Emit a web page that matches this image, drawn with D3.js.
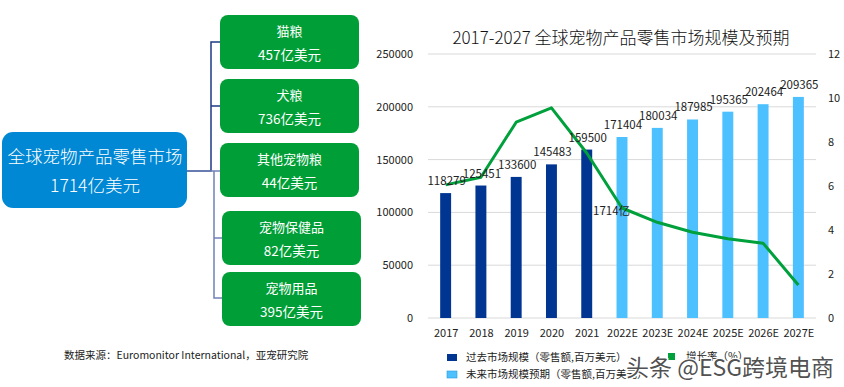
<!DOCTYPE html>
<html>
<head>
<meta charset="utf-8">
<script src="https://cdn.jsdelivr.net/npm/d3@7"></script>
<style>
  body { margin: 0; background: #fff; }
  svg { font-family: "Noto Sans CJK SC", "Noto Sans", sans-serif; }
</style>
</head>
<body>
<div id="chart"></div>
<script>
const width = 844, height = 387;

// market breakdown (left diagram)
const total_label = ['全球宠物产品零售市场', '1714亿美元'];
const segments = ['猫粮', '犬粮', '其他宠物粮', '宠物保健品', '宠物用品'];
const segment_values = ['457亿美元', '736亿美元', '44亿美元', '82亿美元', '395亿美元'];

// bar + line chart
const years = ['2017', '2018', '2019', '2020', '2021', '2022E', '2023E', '2024E', '2025E', '2026E', '2027E'];
const market_size = [118279, 125451, 133600, 145483, 159500, 171404, 180034, 187985, 195365, 202464, 209365];
const is_forecast = [false, false, false, false, false, true, true, true, true, true, true];
const growth_rate = [6.05, 6.4, 8.9, 9.55, 7.5, 5.0, 4.35, 3.9, 3.6, 3.4, 1.5];
const left_ticks = [0, 50000, 100000, 150000, 200000, 250000];
const right_ticks = [0, 2, 4, 6, 8, 10, 12];

const colors = {past: '#003591', future: '#4dc0ff', line: '#00a03c', box: '#0088d4', seg: '#009e36'};

const svg = d3.select('#chart').append('svg').attr('width', width).attr('height', height);

// ---------- left diagram ----------
const seg_boxes = [
  {x: 220, y: 15, w: 139, h: 54},
  {x: 220, y: 79, w: 139, h: 54},
  {x: 220, y: 143, w: 139, h: 54},
  {x: 222, y: 211, w: 139, h: 54},
  {x: 222, y: 272, w: 139, h: 54}
];
const hub_y = 171;

// connectors
const conn = svg.append('g').attr('fill', 'none');
conn.append('path')
  .attr('d', `M187,${hub_y}H211V42H220M211,106H220`)
  .attr('stroke', '#1c3a84').attr('stroke-width', 1.5);
conn.append('path')
  .attr('d', `M187,${hub_y}H214V298H222M214,238H222M214,${hub_y}H220`)
  .attr('stroke', '#7083b6').attr('stroke-width', 1.5);

svg.append('rect')
  .attr('x', 2).attr('y', 132).attr('width', 185).attr('height', 76)
  .attr('rx', 11).attr('fill', colors.box);
svg.append('text').attr('x', 95).attr('y', 163).attr('text-anchor', 'middle')
  .attr('fill', '#fff').attr('font-size', 17.5).attr('font-weight', 300).text(total_label[0]);
svg.append('text').attr('x', 95).attr('y', 192).attr('text-anchor', 'middle')
  .attr('fill', '#fff').attr('font-size', 17.5).attr('font-weight', 300).text(total_label[1]);

const segG = svg.append('g').selectAll('g').data(segments).join('g')
  .attr('transform', (d, i) => `translate(${seg_boxes[i].x},${seg_boxes[i].y})`);
segG.append('rect')
  .attr('width', (d, i) => seg_boxes[i].w).attr('height', (d, i) => seg_boxes[i].h)
  .attr('rx', 8).attr('fill', colors.seg);
segG.append('text')
  .attr('x', (d, i) => seg_boxes[i].w / 2).attr('y', 21)
  .attr('text-anchor', 'middle').attr('fill', '#fff').attr('font-size', 13)
  .text(d => d);
segG.append('text')
  .attr('x', (d, i) => seg_boxes[i].w / 2).attr('y', 45)
  .attr('text-anchor', 'middle').attr('fill', '#fff').attr('font-size', 13.5)
  .text((d, i) => segment_values[i]);

svg.append('text').attr('x', 64).attr('y', 359)
  .attr('font-size', 10.5).attr('fill', '#222')
  .text('数据来源：Euromonitor International，亚宠研究院');

// ---------- right chart ----------
const plot = {left: 428, right: 816, top: 54, bottom: 318};

const x = d3.scalePoint().domain(years).range([plot.left, plot.right]).padding(0.5);
const y = d3.scaleLinear().domain([0, 250000]).range([plot.bottom, plot.top]);
const y2 = d3.scaleLinear().domain([0, 12]).range([plot.bottom, plot.top]);
const bar_w = x.step() * 0.31;

svg.append('text').attr('x', 621).attr('y', 44).attr('text-anchor', 'middle')
  .attr('font-size', 17).attr('font-weight', 300).attr('fill', '#111')
  .text('2017-2027 全球宠物产品零售市场规模及预期');

// gridlines
svg.append('g').selectAll('line').data(left_ticks).join('line')
  .attr('x1', plot.left).attr('x2', plot.right)
  .attr('y1', d => y(d)).attr('y2', d => y(d))
  .attr('stroke', '#d9d9d9').attr('stroke-width', 1);

// axes
const yAxis = svg.append('g').attr('transform', `translate(${plot.left - 6},0)`)
  .call(d3.axisLeft(y).tickValues(left_ticks).tickSize(0).tickPadding(9).tickFormat(d3.format('d')));
const y2Axis = svg.append('g').attr('transform', `translate(${plot.right + 6},0)`)
  .call(d3.axisRight(y2).tickValues(right_ticks).tickSize(0).tickPadding(6));
const xAxis = svg.append('g').attr('transform', `translate(0,${plot.bottom})`)
  .call(d3.axisBottom(x).tickSize(0).tickPadding(11));
[yAxis, y2Axis, xAxis].forEach(a => {
  a.select('.domain').remove();
  a.selectAll('text').attr('font-size', 11).attr('fill', '#222')
    .attr('font-family', '"Noto Sans CJK SC", sans-serif');
});

// bars
svg.append('g').selectAll('rect').data(market_size).join('rect')
  .attr('x', (d, i) => x(years[i]) - bar_w / 2)
  .attr('y', d => y(d))
  .attr('width', bar_w)
  .attr('height', d => y(0) - y(d))
  .attr('fill', (d, i) => is_forecast[i] ? colors.future : colors.past);

// growth line
const line = d3.line().x((d, i) => x(years[i])).y(d => y2(d));
svg.append('path').datum(growth_rate)
  .attr('d', line).attr('fill', 'none')
  .attr('stroke', colors.line).attr('stroke-width', 3).attr('stroke-linejoin', 'round');

// data labels
svg.append('g').selectAll('text').data(market_size).join('text')
  .attr('x', (d, i) => x(years[i]) + 1)
  .attr('y', d => y(d) - 8)
  .attr('text-anchor', 'middle').attr('font-size', 11.5).attr('fill', '#222')
  .text(d => d);
svg.append('text').attr('x', 593).attr('y', 215)
  .attr('font-size', 11.5).attr('fill', '#222').text('1714亿');

// legend
const legend_items = [
  {label: '过去市场规模（零售额,百万美元）', color: colors.past, x: 447, y: 354},
  {label: '未来市场规模预期（零售额,百万美元）', color: colors.future, x: 447, y: 371},
  {label: '增长率（%）', color: colors.line, x: 668, y: 353}
];
const lg = svg.append('g').selectAll('g').data(legend_items).join('g')
  .attr('transform', d => `translate(${d.x},${d.y})`);
lg.append('rect').attr('width', (d, i) => i === 2 ? 7 : 10).attr('height', 7)
  .attr('y', 0).attr('fill', d => d.color)
  .attr('stroke', (d, i) => i === 1 ? '#2a9ad8' : 'none').attr('stroke-width', 0.6);
lg.append('text').attr('x', (d, i) => i === 2 ? 18 : 19).attr('y', 7)
  .attr('font-size', 10.5).attr('fill', '#222').text(d => d.label);

// watermark
svg.append('text').attr('x', 626).attr('y', 376)
  .attr('font-size', 23).attr('fill', '#3a3a3a')
  .attr('stroke', '#fff').attr('stroke-width', 2.5).attr('paint-order', 'stroke')
  .attr('fill-opacity', 0.9)
  .text('头条 @ESG跨境电商');
</script>
</body>
</html>
